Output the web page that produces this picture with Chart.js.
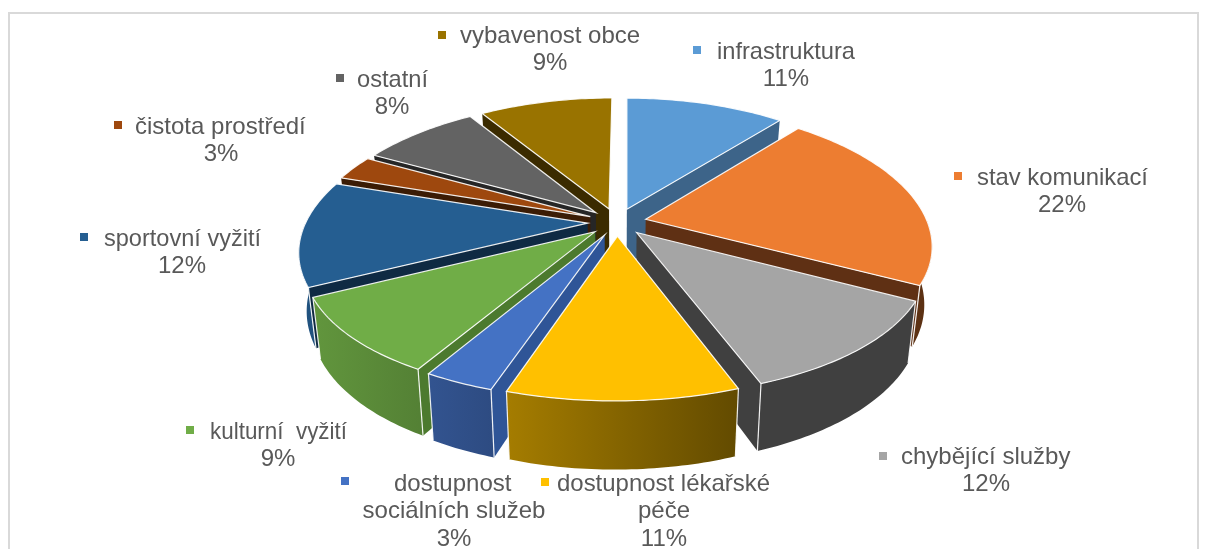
<!DOCTYPE html>
<html><head><meta charset="utf-8">
<style>html,body{margin:0;padding:0;background:#fff}canvas{display:block;filter:blur(0.45px)}</style>
<script src="https://cdn.jsdelivr.net/npm/chart.js@4/dist/chart.umd.js"></script>
</head><body>
<canvas id="c" width="1209" height="549"></canvas>
<script>
const categories = ['infrastruktura','stav komunikací','chybějící služby','dostupnost lékařské\npéče','dostupnost\nsociálních služeb','kulturní  vyžití','sportovní vyžití','čistota prostředí','ostatní','vybavenost obce'];
const values = [10.9,21.8,11.6,10.7,3.3,9.3,12.4,2.9,8.0,9.1];
const topColors = ['#5b9bd5','#ed7d31','#a5a5a5','#ffc000','#4472c4','#70ad47','#255e91','#9e480e','#636363','#997300'];
const sideColors = ['#3d6489','#5f3014','#404040','#664c00','#2f5597','#4c7a2e','#0f2a43','#3b1c05','#262626','#3b2b00'];
const labelSpots = [
 {mx:697,my:50,cx:786,y:59},
 {mx:958,my:176,cx:1062,y:185},
 {mx:883,my:456,cx:986,y:464},
 {mx:545,my:482,cx:664,y:491},
 {mx:345,my:481,cx:454,y:491},
 {mx:190,my:430,cx:278,y:439},
 {mx:84,my:237,cx:182,y:246},
 {mx:118,my:125,cx:221,y:134},
 {mx:340,my:78,cx:392,y:87},
 {mx:442,my:35,cx:550,y:43}
];
const FIRST_LINE_LEFT = [717,977,901,557,394,210,104,135,357,460];
const FIRST_LINE_WIDTH = [138,171,171,213,121,137,157,171,71,182];
const K = 0.1626, KX = 0.19, SX = 1.335, SY = 0.63, SKEW = -0.009, DEPTH = 0.267, SHRINK = 0.975;

function hexRgb(h){return [1,3,5].map(i=>parseInt(h.substr(i,2),16));}
function shade(h,f){return 'rgb('+hexRgb(h).map(c=>Math.round(c*f)).join(',')+')';}

const pie3d = {
  id:'pie3d',
  beforeDraw(chart){
    const c=chart.ctx;
    c.save();c.fillStyle='#fff';c.fillRect(0,0,chart.width,chart.height);
    c.strokeStyle='#d9d9d9';c.lineWidth=2;
    c.beginPath();c.moveTo(9,chart.height);c.lineTo(9,13);c.lineTo(1198,13);c.lineTo(1198,chart.height);c.stroke();
    c.restore();
  },
  beforeDatasetsDraw(chart){
    const c=chart.ctx, meta=chart.getDatasetMeta(0), ds=chart.data.datasets[0];
    const items=meta.data.map((arc,i)=>{
      const a0=arc.startAngle,a1=arc.endAngle,mid=(a0+a1)/2;
      return {arc,i,a0,a1,mid,v:Math.sin(mid)};
    }).sort((p,q)=>p.v-q.v);
    items.forEach(({arc,i,a0,a1,mid})=>{
      const R=arc.outerRadius, off=arc.options.offset/R;
      const ox=Math.cos(mid)*off, oy=Math.sin(mid)*off;
      const top=(u,v)=>{const w=1-K*v;return {x:arc.x+R*(SX*u+SKEW*v)/(1-KX*v),y:arc.y+R*SY*v/w,w};};
      const bot=(u,v)=>{const p=top(u,v);return {x:arc.x+(p.x-arc.x)*SHRINK,y:p.y+R*DEPTH/p.w};};
      const steps=Math.max(4,Math.ceil((a1-a0)*60));
      const ring=[];
      for(let s=0;s<=steps;s++){const a=a0+(a1-a0)*s/steps;ring.push({a,u:ox+Math.cos(a),v:oy+Math.sin(a)});}
      const poly=(pts,fill)=>{c.beginPath();pts.forEach((p,n)=>n?c.lineTo(p.x,p.y):c.moveTo(p.x,p.y));c.closePath();c.fillStyle=fill;c.fill();};
      const apexT=top(ox,oy), apexB=bot(ox,oy);
      [[a0,-1,ring[0]],[a1,1,ring[ring.length-1]]].forEach(([a,dir,e])=>{
        const nv=dir*Math.cos(a);
        if(nv>0){
          poly([apexT,top(e.u,e.v),bot(e.u,e.v),apexB],ds.sideColors[i]);
        }
      });
      const front=ring.filter(p=>Math.sin(p.a)>=0);
      if(front.length>1){
        const g=c.createLinearGradient(arc.x-316,0,arc.x+119,0);
        g.addColorStop(0,shade(topColors[i],0.88));g.addColorStop(1,shade(topColors[i],0.39));
        poly(front.map(p=>top(p.u,p.v)).concat(front.slice().reverse().map(p=>bot(p.u,p.v))),g);
      }
      c.strokeStyle='rgba(255,255,255,0.9)';c.lineWidth=1.2;
      [ring[0],ring[ring.length-1]].forEach(e=>{
        const t=top(e.u,e.v),b=bot(e.u,e.v);
        if(Math.sin(e.a)>0){c.beginPath();c.moveTo(t.x,t.y);c.lineTo(b.x,b.y);c.stroke();}
      });
      c.beginPath();c.moveTo(apexT.x,apexT.y);
      ring.forEach(p=>{const t=top(p.u,p.v);c.lineTo(t.x,t.y);});
      c.closePath();c.fillStyle=topColors[i];c.fill();c.stroke();
    });
    return false;
  },
  afterDraw(chart){
    const c=chart.ctx, vals=chart.data.datasets[0].data, total=vals.reduce((a,b)=>a+b,0);
    c.save();c.font='24px "Liberation Sans", Arial, sans-serif';c.fillStyle='#595959';c.textBaseline='alphabetic';
    chart.data.labels.forEach((lab,i)=>{
      const s=labelSpots[i], lines=lab.split('\n').concat(Math.round(vals[i]/total*100)+'%');
      c.fillStyle=topColors[i];c.fillRect(s.mx-4,s.my-4,8,8);
      c.fillStyle='#595959';
      lines.forEach((t,n)=>{
        if(n===0){c.textAlign='left';c.fillText(t,FIRST_LINE_LEFT[i],s.y,FIRST_LINE_WIDTH[i]);}
        else{c.textAlign='center';c.fillText(t,s.cx,s.y+n*27.3);}
      });
    });
    c.restore();
  }
};

new Chart(document.getElementById('c'),{
  type:'pie',
  data:{labels:categories,datasets:[{data:values,backgroundColor:topColors,sideColors:sideColors,borderWidth:0,offset:22}]},
  options:{responsive:false,animation:false,layout:{padding:{left:25,bottom:105}},
    plugins:{legend:{display:false},tooltip:{enabled:false},title:{display:false}}},
  plugins:[pie3d]
});
</script>
</body></html>
